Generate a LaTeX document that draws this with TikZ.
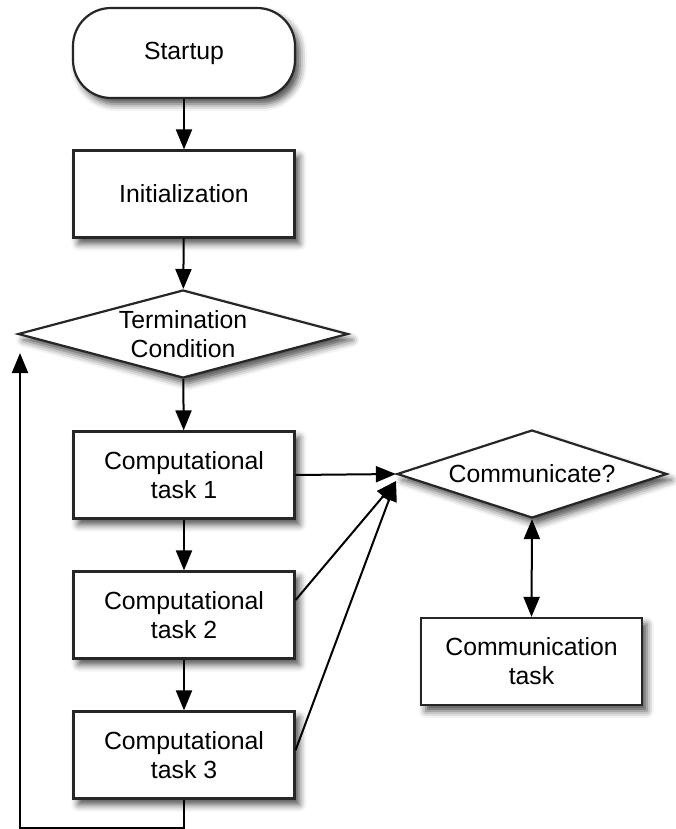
\documentclass[tikz,border=0pt]{standalone}
\usepackage{fontspec}
\setmainfont{Liberation Sans}
\usetikzlibrary{shapes.geometric,arrows.meta,calc,shadows.blur}

\begin{document}
\begin{tikzpicture}[x=0.5pt,y=-0.5pt,
  font=\fontsize{12.4}{14.6}\selectfont,
  boxshadow/.style={blur shadow={shadow xshift=2.4pt,shadow yshift=-3pt,
      shadow blur radius=3.5pt,shadow opacity=70}},
  startbox/.style={rectangle, rounded corners=19pt, draw=black!85, line width=1.1pt,
      fill=white, minimum width=111pt, minimum height=45pt, boxshadow},
  procbox/.style={rectangle, draw=black!85, line width=1.1pt, fill=white,
      minimum width=110.5pt, minimum height=43.5pt, align=center, boxshadow},
  decision/.style={diamond, draw=black!85, line width=1.1pt, fill=white,
      inner sep=0pt, boxshadow},
  flow/.style={line width=1pt, -{Triangle[length=10pt,width=8pt]}},
  flowboth/.style={line width=1pt,
      {Triangle[length=10pt,width=8pt]}-{Triangle[length=10pt,width=8pt]}},
]
\useasboundingbox (0,0) rectangle (675,829);

% main column
\node[startbox] (start) at (184,53) {Startup};
\node[procbox] (init) at (184,194) {Initialization};
\node[decision, minimum width=165pt, minimum height=44pt,
      label={[align=center]center:Termination\\Condition}] (term) at (183,334) {};
\node[procbox] (comp1) at (184,475) {Computational\\task 1};
\node[procbox] (comp2) at (184,615) {Computational\\task 2};
\node[procbox] (comp3) at (184,755) {Computational\\task 3};

% communication side
\node[decision, minimum width=135pt, minimum height=44pt,
      label={center:Communicate?}] (comm) at (532,474) {};
\node[procbox] (ctask) at (531.5,661.5) {Communication\\task};

% helper points
\coordinate (commin) at (396,481);
\coordinate (loopend) at (20,353);

% connectors
\draw[flow] (start) -- (init);
\draw[flow] (init) -- (term);
\draw[flow] (term) -- (comp1);
\draw[flow] (comp1) -- (comp2);
\draw[flow] (comp2) -- (comp3);

\draw[flow] (comp1.east) -- (comm.west);
\draw[flow] ($(comp2.east)+(0,-15)$) -- (commin);
\draw[flow] ($(comp3.east)+(0,-5)$) -- (commin);
\draw[flowboth] (comm.south) -- (ctask.north);

\draw[flow] (comp3.south) -- ++(0,28) -| (loopend);
\end{tikzpicture}
\end{document}
